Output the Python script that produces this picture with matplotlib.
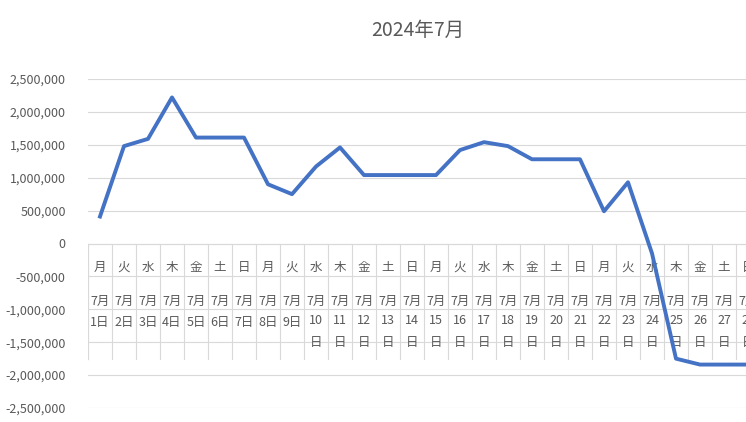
import matplotlib
matplotlib.use("Agg")
import matplotlib.pyplot as plt
from matplotlib.ticker import FuncFormatter

plt.rcParams['font.family'] = ['Noto Sans CJK JP', 'DejaVu Sans']

days = list(range(1, 29))
weekdays = ["月","火","水","木","金","土","日"]*4
values = [410000, 1480000, 1590000, 2220000, 1610000, 1610000, 1610000,
          900000, 750000, 1170000, 1460000, 1040000, 1040000, 1040000,
          1040000, 1420000, 1540000, 1480000, 1280000, 1280000, 1280000,
          490000, 930000, -150000, -1750000, -1840000, -1840000, -1840000]

W, H = 746, 422
fig = plt.figure(figsize=(W/100, H/100), dpi=100)
left_px, right_px = 88, 88 + 31*24
top_px, bot_px = 79, 408
ax = fig.add_axes([left_px/W, 1-bot_px/H, (right_px-left_px)/W, (bot_px-top_px)/H])
ax.set_xlim(0.5, 31.5)
ax.set_ylim(-2500000, 2500000)
ax.set_yticks(range(-2500000, 2500001, 500000))
ax.yaxis.set_major_formatter(FuncFormatter(lambda v, p: f"{int(v):,}"))
ax.grid(axis='y', color='#d9d9d9', lw=0.8)
ax.set_axisbelow(True)
for s in ax.spines.values():
    s.set_visible(False)
ax.tick_params(axis='y', length=0, labelsize=9, labelcolor='#595959', pad=16)
ax.set_xticks([])
ax.axhline(0, color='#d9d9d9', lw=0.8)

# category axis (multi-level) drawn at y=0
ppy = 5000000/(bot_px-top_px)
def ypx(px):
    return -(px-243)*ppy
for i in range(32):
    ax.plot([0.5+i, 0.5+i], [0, ypx(358)], color='#d9d9d9', lw=0.8, zorder=1)
ax.plot([0.5, 0.5], [0, ypx(358)], color='#d9d9d9', lw=0.8, zorder=1)
for d, w in zip(days, weekdays):
    ax.text(d, ypx(267), w, ha='center', va='center', fontsize=9, color='#595959')
    ax.text(d, ypx(301), "7月", ha='center', va='center', fontsize=9, color='#595959')
    if d < 10:
        ax.text(d, ypx(322), f"{d}日", ha='center', va='center', fontsize=9, color='#595959')
    else:
        ax.text(d, ypx(320), f"{d}", ha='center', va='center', fontsize=9, color='#595959')
        ax.text(d, ypx(342), "日", ha='center', va='center', fontsize=9, color='#595959')

ax.plot(days, values, color='#4472C4', lw=2.8, zorder=5)
fig.text(418/W, 1-30/H, "2024年7月", ha='center', va='center', fontsize=14, color='#595959')
fig.savefig("out.png", dpi=100)
